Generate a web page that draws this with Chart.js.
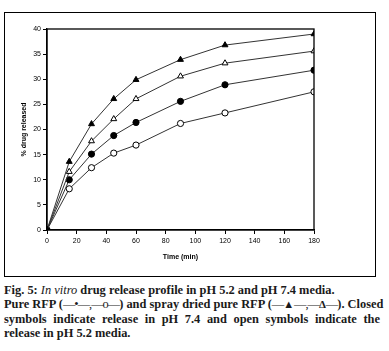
<!DOCTYPE html>
<html>
<head>
<meta charset="utf-8">
<script src="https://cdn.jsdelivr.net/npm/chart.js@4"></script>
<style>
  body { margin: 0; background: #fff; width: 389px; height: 351px; position: relative; overflow: hidden; }
  #frame { position: absolute; left: 4px; top: 12px; width: 370px; height: 263px; border: 1px solid #000; }
  #wrap { position: absolute; left: 0; top: 0; width: 389px; height: 280px; }
  #caption { position: absolute; left: 4px; top: 283px; width: 376px; font-family: "Liberation Serif", serif;
             font-weight: bold; font-size: 12.4px; line-height: 14.3px; color: #1a1a1a; }
  #caption div { white-space: nowrap; }
  #caption .j { text-align: justify; text-align-last: justify; }
  #caption .d { font-weight: normal; letter-spacing: -1px; }
  #caption .t { font-size: 11px; }
</style>
</head>
<body>
<div id="frame"></div>
<div id="wrap"><canvas id="releaseChart" width="389" height="280"></canvas></div>
<div id="caption">
  <div>Fig. 5: <i style="font-weight:normal">In vitro</i> drug release profile in pH 5.2 and pH 7.4 media.</div>
  <div class="j">Pure RFP (<span class="d">—•—,—o—</span>) and spray dried pure RFP (<span class="d">—</span><span class="t">▲</span><span class="d">—,—</span><span class="t">Δ</span><span class="d">—</span>). Closed</div>
  <div class="j">symbols indicate release in pH 7.4 and open symbols indicate the</div>
  <div>release in pH 5.2 media.</div>
</div>
<script>
// Sampling times (min)
const times = [0, 15, 30, 45, 60, 90, 120, 180];

// % drug released
const sprayDriedPH74 = [0, 13.6, 21.1, 26.1, 29.9, 33.9, 36.8, 39.0];  // filled triangles
const sprayDriedPH52 = [0, 11.6, 17.7, 22.1, 26.1, 30.6, 33.2, 35.6];  // open triangles
const pureRfpPH74 = [0, 10.0, 15.1, 18.8, 21.4, 25.6, 28.9, 31.8];     // filled circles
const pureRfpPH52 = [0, 8.2, 12.4, 15.3, 16.9, 21.2, 23.3, 27.5];      // open circles

const toPoints = vals => vals.map((v, i) => ({ x: times[i], y: v }));

function series(label, vals, style, filled) {
    return {
        label: label,
        data: toPoints(vals),
        borderColor: '#333',
        borderWidth: 1,
        pointStyle: style,
        pointRadius: style === 'triangle' ? 3.4 : 3.1,
        pointBorderColor: '#000',
        pointBorderWidth: 1,
        pointBackgroundColor: filled ? '#000' : '#fff',
        tension: 0
    };
}

// box round the plot area, like the original
const plotBox = {
    id: 'plotBox',
    afterDraw(chart) {
        const a = chart.chartArea;
        const ctx = chart.ctx;
        ctx.save();
        ctx.strokeStyle = '#000';
        ctx.lineWidth = 1.3;
        ctx.strokeRect(a.left, a.top, a.right - a.left, a.bottom - a.top);
        ctx.restore();
    }
};

const tickFont = { family: 'Liberation Sans, Arial, sans-serif', size: 7 };

new Chart(document.getElementById('releaseChart').getContext('2d'), {
    type: 'line',
    data: {
        datasets: [
            series('Spray dried pure RFP pH 7.4', sprayDriedPH74, 'triangle', true),
            series('Spray dried pure RFP pH 5.2', sprayDriedPH52, 'triangle', false),
            series('Pure RFP pH 7.4', pureRfpPH74, 'circle', true),
            series('Pure RFP pH 5.2', pureRfpPH52, 'circle', false)
        ]
    },
    options: {
        responsive: false,
        animation: false,
        layout: { padding: { left: 0, top: 29, right: 75, bottom: 15 } },
        plugins: {
            legend: { display: false },
            tooltip: { enabled: false }
        },
        scales: {
            x: {
                type: 'linear',
                min: 0,
                max: 180,
                afterFit: s => { s.height = 35; },
                ticks: { stepSize: 20, color: '#000', font: tickFont, padding: 3, maxRotation: 0 },
                grid: { drawOnChartArea: false, tickLength: 4, color: '#000' },
                border: { color: '#000', width: 1.3 },
                title: { display: true, text: 'Time (min)', color: '#000',
                         font: { family: 'Liberation Sans, Arial, sans-serif', size: 7, weight: 'bold' } }
            },
            y: {
                min: 0,
                max: 40,
                afterFit: s => { s.width = 47; },
                ticks: { stepSize: 5, color: '#000', font: tickFont, padding: 2 },
                grid: { drawOnChartArea: false, tickLength: 4, color: '#000' },
                border: { color: '#000', width: 1.3 },
                title: { display: true, text: '% drug released', color: '#000', padding: { top: 20, bottom: 4 },
                         font: { family: 'Liberation Sans, Arial, sans-serif', size: 7, weight: 'bold' } }
            }
        }
    },
    plugins: [plotBox]
});
</script>
</body>
</html>
